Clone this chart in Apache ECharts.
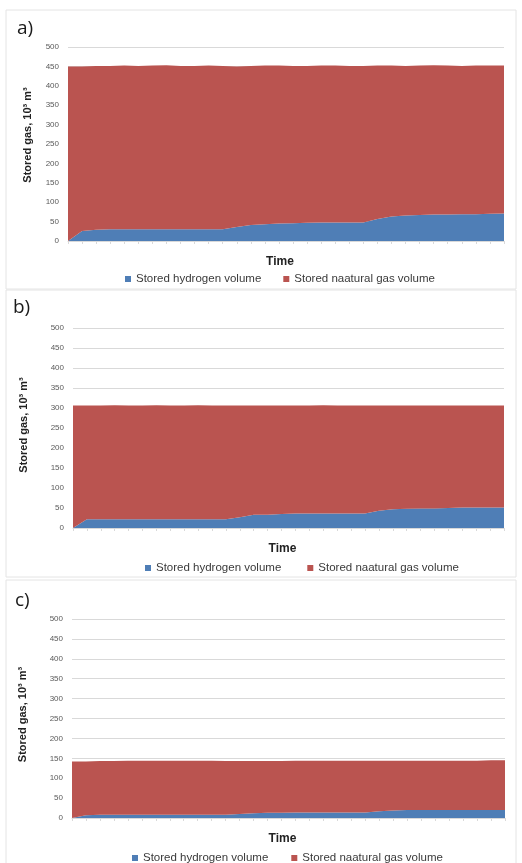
<!DOCTYPE html>
<html>
<head>
<meta charset="utf-8">
<script src="https://cdn.jsdelivr.net/npm/echarts@6/dist/echarts.min.js"></script>
<style>html,body{margin:0;padding:0;background:#fff}#c{width:522px;height:863px}</style>
</head>
<body>
<div id="c"></div>
<script>
// ---- data ----
const timeSteps = Array.from({length: 32}, (_, i) => String(i + 1));
const yTicks = [0, 50, 100, 150, 200, 250, 300, 350, 400, 450, 500];
const seriesNames = ['Stored hydrogen volume', 'Stored naatural gas volume'];
const panelLabels = ['a)', 'b)', 'c)'];

const hydrogenA = [0, 26, 29, 30, 30, 30, 30, 30, 30, 30, 30, 30, 36, 41, 43, 45, 46, 47, 48, 48, 48, 48, 57, 63, 66, 67, 68, 68, 69, 69, 70, 71];
const natGasA   = [450, 424, 422, 421, 422, 421, 422, 423, 421, 421, 422, 421, 414, 410, 409, 407, 405, 404, 404, 404, 403, 403, 395, 389, 385, 385, 385, 384, 382, 383, 382, 381];

const hydrogenB = [0, 22, 22, 22, 22, 22, 22, 22, 22, 22, 22, 22, 27, 33, 33, 35, 36, 36, 36, 36, 36, 36, 43, 47, 48, 49, 49, 50, 51, 51, 51, 51];
const natGasB   = [306, 284, 284, 285, 284, 284, 285, 284, 284, 285, 284, 284, 279, 273, 273, 271, 270, 270, 271, 270, 270, 270, 263, 259, 258, 257, 257, 256, 255, 255, 255, 255];

const hydrogenC = [0, 7, 8, 8, 8, 8, 8, 8, 8, 8, 8, 8, 10, 12, 13, 13, 14, 14, 14, 14, 14, 14, 17, 19, 20, 20, 20, 20, 20, 20, 20, 20];
const natGasC   = [142, 135, 135, 135, 136, 136, 136, 136, 136, 136, 136, 135, 133, 131, 130, 130, 130, 130, 130, 130, 130, 130, 127, 125, 124, 124, 124, 124, 124, 124, 125, 125];

// ---- layout ----
const BLUE = '#4F7EB6', RED = '#BA5450';
const FONT = 'Liberation Sans, Arial, sans-serif';
const panels = [
  {h: hydrogenA, g: natGasA, grid: {left: 68, top: 47, width: 436, height: 194}, yGap: 35, yPad: 18, legendLeft: 120, legendTop: 268, legendGap: 22, box: [6, 10, 510, 279], lab: [17, 19]},
  {h: hydrogenB, g: natGasB, grid: {left: 73, top: 328, width: 431, height: 200}, yGap: 44, yPad: 6, legendLeft: 140, legendTop: 557, legendGap: 26, box: [6, 290, 510, 287], lab: [13, 298]},
  {h: hydrogenC, g: natGasC, grid: {left: 72, top: 619, width: 433, height: 199}, yGap: 44, yPad: 8, legendLeft: 127, legendTop: 847, legendGap: 23, box: [6, 580, 510, 290], lab: [15, 591]}
];

const grid = [], xAxis = [], yAxis = [], series = [], legend = [], graphic = [];
panels.forEach((p, i) => {
  grid.push(Object.assign({containLabel: false}, p.grid));
  xAxis.push({
    type: 'category', gridIndex: i, data: timeSteps, boundaryGap: false,
    name: 'Time', nameLocation: 'middle', nameGap: 15,
    nameTextStyle: {fontFamily: FONT, fontWeight: 'bold', fontSize: 12, color: '#222', padding: [0, 12, 0, 0]},
    axisLine: {show: true, lineStyle: {color: '#d9d9d9', width: 1}},
    axisTick: {show: true, interval: 0, length: 3, lineStyle: {color: '#d9d9d9'}},
    axisLabel: {show: false}, splitLine: {show: false}
  });
  yAxis.push({
    type: 'value', gridIndex: i, min: yTicks[0], max: yTicks[yTicks.length - 1], interval: yTicks[1] - yTicks[0],
    name: 'Stored gas, 10\u00B3 m\u00B3', nameLocation: 'middle', nameGap: p.yGap,
    nameTextStyle: {fontFamily: FONT, fontWeight: 'bold', fontSize: 11, color: '#222', padding: [0, 0, 0, p.yPad]},
    axisLine: {show: false}, axisTick: {show: false},
    axisLabel: {fontFamily: FONT, fontSize: 8, color: '#595959', margin: 9},
    splitLine: {show: true, lineStyle: {color: '#d9d9d9', width: 1}}
  });
  [p.h, p.g].forEach((vals, k) => {
    series.push({
      type: 'line', name: seriesNames[k], xAxisIndex: i, yAxisIndex: i, stack: 'panel' + i,
      data: vals, showSymbol: false, symbol: 'none',
      lineStyle: {width: 0}, itemStyle: {color: k === 0 ? BLUE : RED},
      areaStyle: {color: k === 0 ? BLUE : RED, opacity: 1}, animation: false
    });
  });
  legend.push({
    left: p.legendLeft, top: p.legendTop, orient: 'horizontal', itemGap: p.legendGap,
    icon: 'rect', itemWidth: 6, itemHeight: 6, data: seriesNames, selectedMode: false,
    textStyle: {fontFamily: FONT, fontSize: 11.5, color: '#3a3a3a'}
  });
  graphic.push({
    type: 'rect', shape: {x: p.box[0], y: p.box[1], width: p.box[2], height: p.box[3]},
    style: {fill: 'none', stroke: '#e4e4e4', lineWidth: 1}, silent: true, z: -1
  });
  graphic.push({
    type: 'text', left: p.lab[0], top: p.lab[1],
    style: {text: panelLabels[i], fontFamily: 'Open Sans, Noto Sans, sans-serif', fontSize: 19, fill: '#1a1a1a'}
  });
});

const chart = echarts.init(document.getElementById('c'), null, {renderer: 'canvas'});
chart.setOption({animation: false, backgroundColor: '#fff', grid, xAxis, yAxis, series, legend, graphic});
</script>
</body>
</html>
